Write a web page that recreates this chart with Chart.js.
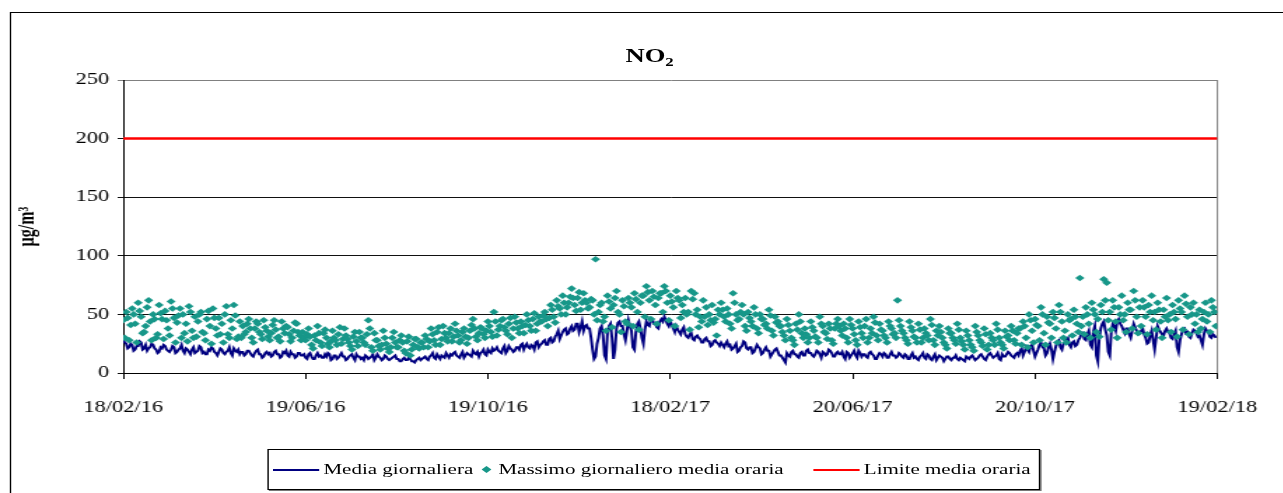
<!DOCTYPE html>
<html>
<head>
<meta charset="utf-8">
<script src="https://cdn.jsdelivr.net/npm/chart.js@4.4.1/dist/chart.umd.min.js"></script>
<style>
html, body { margin: 0; padding: 0; background: #fff; overflow: hidden; }
#stretch { position: absolute; left: 0; top: 0; width: 917px; height: 493px; transform: scaleX(1.4); transform-origin: 0 0; }
#frame { position: absolute; left: 7px; top: 12px; width: 940px; height: 520px; border: 1px solid #000; box-sizing: border-box; }
#chart-box { position: absolute; left: 0; top: 0; width: 917px; height: 493px; }
#title { position: absolute; left: 0; top: 45px; width: 928px; text-align: center; font-family: 'Liberation Serif', 'Times New Roman', serif; font-weight: bold; font-size: 19px; line-height: 22px; color: #000; }
#title sub { font-size: 12px; vertical-align: -4px; line-height: 0; }
#legend { position: absolute; left: 191px; top: 449px; width: 552px; height: 41px; border: 1px solid #000; box-shadow: 1px 1px 0 #777; box-sizing: border-box; background: #fff; font-family: 'Liberation Serif', 'Times New Roman', serif; font-size: 15px; color: #000; }
#legend .item { position: absolute; top: 0; height: 39px; display: flex; align-items: center; white-space: nowrap; }
#legend .line { display: inline-block; width: 33px; height: 2px; margin-right: 3px; }
#legend .diamond { display: inline-block; width: 5px; height: 5px; transform: rotate(45deg); margin: 0 6px 0 0; }
</style>
</head>
<body>
<div id="stretch">
  <div id="frame"></div>
  <div id="title">NO<sub>2</sub></div>
  <div id="chart-box"><canvas id="no2Chart"></canvas></div>
  <div id="legend"></div>
</div>
<script>
// asse x: giorni dal 18/02/16 (un valore al giorno)
const tickDays = [0, 122, 244, 366, 488, 610, 732];
const tickLabels = ["18/02/16", "19/06/16", "19/10/16", "18/02/17", "20/06/17", "20/10/17", "19/02/18"];
const limiteOrario = 200;

const mediaGiornaliera = [
  28,26,25,21,22,25,24,19,20,23,23,27,26,20,21,24,19,21,22,25,24,21,20,17,18,22,21,24,23,20,19,18,20,23,22,17,18,20,21,24,
  19,17,21,20,18,16,20,22,17,18,19,23,22,17,18,16,16,20,19,22,21,18,17,15,18,21,20,17,16,18,19,22,17,15,21,19,18,20,16,18,
  18,15,16,19,19,17,15,14,17,19,20,16,16,13,14,17,18,16,17,14,15,18,19,16,16,13,14,18,17,19,15,14,18,16,16,13,14,17,17,15,
  15,16,13,12,16,17,14,12,12,15,17,14,15,13,13,16,14,17,16,11,12,15,15,12,13,15,17,14,14,11,12,14,15,16,13,11,16,14,14,12,
  13,11,15,14,12,13,14,16,11,13,16,14,13,11,12,15,14,12,11,12,13,14,15,12,12,10,10,12,13,11,11,13,12,10,10,9,11,12,13,11,
  12,13,14,12,11,14,15,17,13,12,16,14,12,15,14,13,17,15,13,16,15,17,18,15,14,13,16,18,13,15,17,16,15,14,19,17,16,18,14,17,
  18,20,16,15,20,18,17,21,19,20,22,19,18,17,21,23,17,19,23,21,20,18,19,22,22,20,24,25,20,23,25,22,21,24,23,20,26,27,22,24,
  25,27,28,24,24,29,30,26,27,31,33,36,29,32,35,37,38,33,34,38,40,36,37,42,42,35,39,44,36,40,41,38,38,30,20,12,14,25,30,38,
  40,32,15,12,35,40,42,30,12,20,38,43,44,40,40,33,28,36,45,40,36,22,20,35,42,44,38,30,25,37,44,41,40,46,46,42,42,39,38,44,
  46,44,48,45,42,40,44,41,38,35,40,37,35,33,37,39,33,31,30,33,34,29,28,31,32,30,29,26,26,29,30,27,27,23,24,27,28,26,25,23,
  26,24,22,25,27,23,24,20,21,23,25,18,19,22,23,27,26,21,20,22,22,17,18,21,24,22,21,16,17,20,22,19,19,14,16,18,20,21,18,15,
  15,13,11,9,17,15,14,18,19,16,16,14,13,17,18,15,15,19,20,17,17,15,14,16,19,18,16,13,18,17,15,16,20,19,17,14,14,17,18,16,
  16,18,14,12,18,17,13,15,17,19,15,13,19,17,14,16,16,14,13,17,18,16,15,12,12,15,17,16,14,17,16,13,13,16,18,15,15,13,14,17,
  16,14,13,16,15,12,12,15,17,13,14,12,11,14,15,17,13,12,16,15,12,11,14,16,11,13,15,14,13,10,12,14,14,12,11,13,13,15,12,11,
  13,12,11,10,14,13,12,14,15,13,11,12,13,15,16,14,12,11,14,16,17,15,13,14,15,17,12,11,16,14,14,16,18,17,15,14,13,16,17,15,
  19,21,15,18,22,20,18,23,24,19,14,17,20,24,26,22,21,15,17,22,25,20,12,18,23,27,28,22,20,25,26,29,30,24,22,26,27,23,24,28,
  30,33,34,29,28,33,36,24,22,35,40,15,10,30,38,42,44,37,32,18,15,35,42,40,36,44,46,42,40,37,34,38,38,33,30,36,42,39,36,35,
  34,36,38,33,30,25,26,32,36,28,20,30,40,37,35,33,32,36,38,35,34,30,29,33,36,22,18,28,33,37,38,34,35,31,30,34,37,36,34,31,
  32,28,24,33,38,36,35,31,30,33,32,30
];

const massimoOrario = [
  45,30,52,47,28,41,55,50,42,26,60,53,48,34,35,40,56,62,44,28,50,46,30,33,58,51,46,29,53,45,38,32,61,55,47,26,43,49,55,30,
  50,34,42,27,57,52,36,30,48,31,44,50,52,35,34,28,46,53,40,25,55,47,38,32,47,33,42,26,50,57,33,30,45,38,58,49,29,31,44,30,
  40,33,35,42,46,38,30,26,38,44,42,35,33,29,45,39,36,31,28,34,41,45,37,30,31,27,44,38,34,40,39,33,27,30,36,43,42,35,32,28,
  35,30,28,33,38,31,24,21,32,28,40,34,26,23,34,37,30,25,22,27,36,30,28,24,33,39,25,29,38,32,29,26,23,20,31,35,27,23,35,30,
  30,26,24,33,45,38,22,19,34,28,28,23,20,24,36,30,25,21,18,22,30,35,26,22,22,28,32,26,19,17,27,31,15,20,24,29,29,22,21,26,
  26,22,32,29,22,27,38,33,28,24,35,39,24,29,40,34,30,27,34,38,27,31,42,36,32,26,28,35,38,31,25,30,36,41,46,38,31,28,34,39,
  38,33,30,36,44,40,35,31,52,44,32,37,40,45,46,39,36,33,42,47,30,38,48,43,38,34,44,40,34,41,50,45,40,36,46,51,36,42,48,44,
  44,49,52,46,40,47,58,54,48,43,62,57,55,50,66,60,50,56,60,65,72,64,58,53,64,69,54,60,68,62,60,55,56,63,62,50,97,45,52,58,
  60,44,48,36,66,61,55,39,58,64,70,52,50,35,62,57,44,42,64,60,56,40,68,63,52,37,60,66,66,48,74,69,62,46,70,65,58,42,64,68,
  68,52,74,70,60,45,66,61,56,40,70,64,62,47,58,52,64,50,52,37,70,63,68,50,54,39,48,44,62,48,56,41,50,45,58,43,46,32,54,50,
  60,54,48,44,55,50,42,38,68,60,50,45,46,52,58,50,40,36,52,47,44,40,56,50,38,34,50,46,46,41,42,38,54,49,36,32,48,43,44,40,
  40,35,32,28,46,41,36,30,28,24,42,37,50,44,34,30,38,33,26,30,44,39,36,31,30,26,48,42,40,35,34,29,42,38,28,25,38,42,46,40,
  36,32,42,38,30,26,46,41,38,33,28,24,44,39,34,30,40,46,26,30,38,34,48,43,32,28,42,37,36,32,30,26,44,40,38,33,34,30,62,45,
  40,36,34,30,28,25,44,39,36,31,30,26,42,37,26,30,38,34,32,28,46,41,28,24,36,32,40,35,30,26,24,21,38,34,34,30,28,25,42,37,
  30,27,24,20,36,32,28,24,22,19,40,35,32,28,26,23,38,33,20,24,34,30,28,24,42,37,30,26,24,21,36,31,32,28,40,36,28,25,34,38,
  38,24,44,40,30,22,50,45,36,26,46,41,40,28,56,50,34,24,48,43,42,30,52,47,38,26,58,52,44,30,36,26,50,45,46,32,54,48,42,35,
  81,40,48,33,56,50,42,30,60,54,50,35,46,31,58,52,80,62,77,45,52,37,62,56,44,30,56,50,66,45,50,35,60,54,54,38,70,62,48,34,
  56,40,62,56,48,33,58,52,66,45,52,37,60,54,44,30,54,48,64,45,50,35,58,52,46,31,62,55,52,37,66,59,48,33,56,50,60,42,50,35,
  54,38,46,52,60,44,50,35,62,56,52,40
];

const colMedia = "#000080";
const colMassimo = "#179789";
const colLimite = "#ff0000";
const serif = "'Liberation Serif', 'Times New Roman', serif";

const mediaPts = mediaGiornaliera.map((v, i) => ({ x: i, y: v }));
const massimoPts = massimoOrario.map((v, i) => ({ x: i, y: v }));
const limitePts = [{ x: tickDays[0], y: limiteOrario }, { x: tickDays[tickDays.length - 1], y: limiteOrario }];

const plotBorder = {
    id: "plotBorder",
    beforeDatasetsDraw(chart) {
        const { ctx, chartArea } = chart;
        ctx.save();
        ctx.strokeStyle = "#808080";
        ctx.lineWidth = 1;
        ctx.beginPath();
        ctx.moveTo(chartArea.right, chartArea.top);
        ctx.lineTo(chartArea.right, chartArea.bottom);
        ctx.stroke();
        ctx.restore();
    }
};

const ctx = document.getElementById("no2Chart").getContext("2d");
new Chart(ctx, {
    type: "line",
    data: {
        datasets: [
            { label: "Media giornaliera", data: mediaPts, borderColor: colMedia, backgroundColor: colMedia,
              borderWidth: 2, pointRadius: 0, tension: 0, order: 2 },
            { label: "Massimo giornaliero media oraria", data: massimoPts, showLine: false,
              pointStyle: "rectRot", pointRadius: 3.3, borderWidth: 0,
              backgroundColor: colMassimo, borderColor: colMassimo, order: 1 },
            { label: "Limite media oraria", data: limitePts, borderColor: colLimite, backgroundColor: colLimite,
              borderWidth: 2.5, pointRadius: 0, order: 0 }
        ]
    },
    options: {
        responsive: true,
        maintainAspectRatio: false,
        animation: false,
        layout: { padding: { left: 0, right: 41, top: 80, bottom: 0 } },
        plugins: {
            legend: { display: false },
            tooltip: { enabled: false },
            title: { display: false }
        },
        scales: {
            x: {
                type: "linear",
                min: tickDays[0],
                max: tickDays[tickDays.length - 1],
                afterBuildTicks: (scale) => { scale.ticks = tickDays.map(v => ({ value: v })); },
                afterFit: (scale) => { scale.height = 120; },
                grid: { drawOnChartArea: false, drawTicks: true, tickLength: 6, color: "#000" },
                border: { display: true, color: "#000", width: 1 },
                ticks: {
                    color: "#000",
                    font: { family: serif, size: 16 },
                    padding: 19,
                    maxRotation: 0,
                    autoSkip: false,
                    callback: (v) => tickLabels[tickDays.indexOf(v)]
                }
            },
            y: {
                min: 0,
                max: 250,
                afterFit: (scale) => { scale.width = 88; },
                grid: {
                    color: (c) => (c.tick && c.tick.value === 250 ? "#808080" : "#111"),
                    tickLength: 4,
                    lineWidth: 1
                },
                border: { display: true, color: "#000", width: 1 },
                ticks: {
                    stepSize: 50,
                    color: "#000",
                    font: { family: serif, size: 16 },
                    padding: 6
                },
                title: {
                    display: true,
                    text: "µg/m³",
                    color: "#000",
                    font: { family: serif, size: 16, weight: "bold" },
                    padding: { top: 10, bottom: 0 }
                }
            }
        }
    },
    plugins: [plotBorder]
});

// legenda in stile Excel
const legendItems = [
    { text: "Media giornaliera", color: colMedia, kind: "line", left: 3 },
    { text: "Massimo giornaliero media oraria", color: colMassimo, kind: "diamond", left: 153 },
    { text: "Limite media oraria", color: colLimite, kind: "line", left: 389 }
];
const legend = document.getElementById("legend");
legendItems.forEach(function (it) {
    const item = document.createElement("div");
    item.className = "item";
    item.style.left = it.left + "px";
    const sym = document.createElement("span");
    sym.className = it.kind;
    sym.style.background = it.color;
    item.appendChild(sym);
    const txt = document.createElement("span");
    txt.textContent = it.text;
    item.appendChild(txt);
    legend.appendChild(item);
});
</script>
</body>
</html>
